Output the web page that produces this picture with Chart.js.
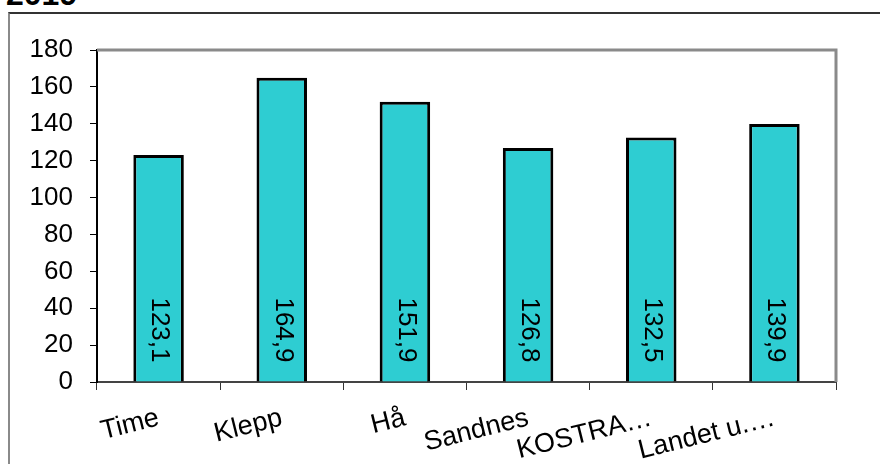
<!DOCTYPE html>
<html>
<head>
<meta charset="utf-8">
<script src="https://cdn.jsdelivr.net/npm/chart.js@4/dist/chart.umd.min.js"></script>
<style>
  body { margin: 0; background: #fff; }
  #wrap { position: relative; width: 880px; height: 464px; overflow: hidden; }
  #frame { position: absolute; left: 8px; top: 12px; width: 900px; height: 500px;
           border-left: 2px solid #8a8a8a; border-top: 2px solid #333; }
  #title { position: absolute; left: 6px; top: -24px; font: bold 32px "Liberation Sans", Arial, sans-serif; color: #000; }
  canvas { position: absolute; left: 0; top: 0; }
</style>
</head>
<body>
<div id="wrap">
  <div id="frame"></div>
  <div id="title">2019</div>
  <canvas id="chart" width="880" height="464"></canvas>
</div>
<script>
const categories = ['Time', 'Klepp', 'Hå', 'Sandnes', 'KOSTRA…', 'Landet u.…'];
const values = [123.1, 164.9, 151.9, 126.8, 132.5, 139.9];
const yTicks = [0, 20, 40, 60, 80, 100, 120, 140, 160, 180];

const font = "'Liberation Sans', Arial, sans-serif";

// value labels written vertically inside each bar
const barLabels = {
    id: 'barLabels',
    afterDatasetsDraw(chart) {
        const c = chart.ctx;
        const meta = chart.getDatasetMeta(0);
        c.save();
        c.font = '26px ' + font;
        c.fillStyle = '#000';
        meta.data.forEach((bar, i) => {
            c.save();
            c.translate(bar.x + 1, bar.base - 19);
            c.rotate(Math.PI / 2);
            c.textAlign = 'right';
            c.textBaseline = 'middle';
            c.fillText(values[i].toFixed(1).replace('.', ','), 0, 0);
            c.restore();
        });
        c.restore();
    }
};

// gray top/right border of the plot area
const plotBorder = {
    id: 'plotBorder',
    beforeDatasetsDraw(chart) {
        const a = chart.chartArea;
        const c = chart.ctx;
        c.save();
        c.strokeStyle = '#8a8a8a';
        c.lineWidth = 3;
        c.beginPath();
        c.moveTo(a.left, a.top);
        c.lineTo(a.right, a.top);
        c.lineTo(a.right, a.bottom);
        c.stroke();
        c.restore();
    }
};

new Chart(document.getElementById('chart'), {
    type: 'bar',
    data: {
        labels: categories,
        datasets: [{
            data: values,
            backgroundColor: '#2ecdd2',
            borderColor: '#000',
            borderWidth: 3,
            barPercentage: 0.41,
            categoryPercentage: 1
        }]
    },
    options: {
        responsive: false,
        animation: false,
        layout: { padding: { top: 50, right: 44, left: 0, bottom: 0 } },
        plugins: { legend: { display: false }, tooltip: { enabled: false } },
        scales: {
            x: {
                offset: true,
                grid: { display: true, drawOnChartArea: false, offset: true, tickLength: 8, color: '#333' },
                border: { color: '#444', width: 2 },
                ticks: {
                    color: '#000',
                    font: { family: font, size: 27 },
                    minRotation: 14,
                    maxRotation: 14,
                    autoSkip: false,
                    padding: 12
                },
                afterFit(s) { s.height = 82; }
            },
            y: {
                min: 0,
                max: 180,
                afterBuildTicks(s) { s.ticks = yTicks.map(v => ({ value: v })); },
                grid: { display: true, drawOnChartArea: false, tickLength: 7, color: '#000' },
                border: { color: '#000', width: 2 },
                ticks: {
                    color: '#000',
                    font: { family: font, size: 26 },
                    padding: 17
                },
                afterFit(s) { s.width = 97; }
            }
        }
    },
    plugins: [plotBorder, barLabels]
});
</script>
</body>
</html>
